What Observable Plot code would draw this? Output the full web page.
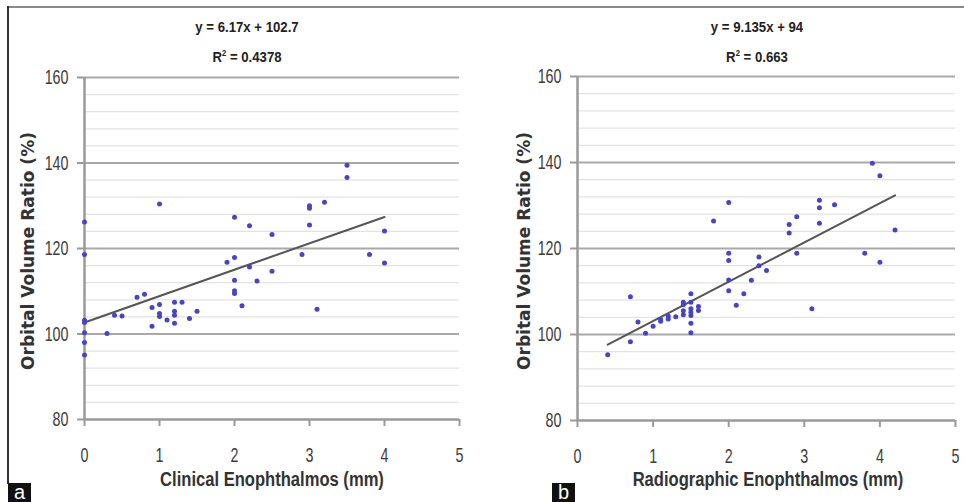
<!DOCTYPE html>
<html><head><meta charset="utf-8">
<script src="https://cdn.jsdelivr.net/npm/d3@7"></script>
<script src="https://cdn.jsdelivr.net/npm/@observablehq/plot@0.6"></script>
<style>
body{margin:0;background:#fff}
#root{position:relative;width:964px;height:502px;overflow:hidden;background:#fff}
.frameTop{position:absolute;left:8px;top:6px;width:956px;height:2px;background:#8a8a8a}
.frameLeft{position:absolute;left:7px;top:6px;width:2px;height:478px;background:#333}
.tag{position:absolute;top:483px;width:23px;height:19px;background:#111;color:#fff;font:20px "Liberation Sans",Arial,sans-serif;text-align:center;line-height:18px}
.eq{position:absolute;transform:translateX(-50%) scaleX(0.85);font:bold 15.5px "Liberation Sans",Arial,sans-serif;text-align:center;color:#222;white-space:nowrap;line-height:30px}
.eq sup{font-size:9px;vertical-align:6px;line-height:0}
.ytitle{position:absolute;transform:translate(-50%,-50%) rotate(-90deg);font:bold 17px "DejaVu Sans",Verdana,sans-serif;color:#333;white-space:nowrap}
.xtitle{position:absolute;transform:translate(-50%,-50%) scaleX(0.85);font:bold 19.5px "Liberation Sans",Arial,sans-serif;color:#333;white-space:nowrap}
.panel{position:absolute;top:0}
</style>
</head><body>
<div id="root">
  <div class="frameTop"></div>
  <div class="frameLeft"></div>
</div>
<script>
// ---- data ----
const clinicalX = [0,0,0,0,0,0,0, 0.3,0.4,0.5,0.7,0.8,0.9,0.9, 1.0,1.0,1.0,1.0, 1.1, 1.2,1.2,1.2,1.2, 1.3,1.4,1.5, 1.9, 2.0,2.0,2.0,2.0,2.0, 2.1, 2.2,2.2, 2.3, 2.5,2.5, 2.9, 3.0,3.0,3.0, 3.1, 3.2, 3.5,3.5, 3.8, 4.0,4.0];
const clinicalY = [126.2,118.6,103.2,102.7,100.3,98.0,95.1, 100.1,104.4,104.2,108.6,109.3,106.2,101.8, 130.4,106.9,104.8,104.1, 103.3, 107.4,105.3,104.4,102.5, 107.4,103.6,105.3, 116.8, 127.3,117.9,112.6,110.1,109.5, 106.6, 125.3,115.7, 112.4, 123.3,114.7, 118.6, 130.0,129.4,125.5, 105.8, 130.8, 139.5,136.6, 118.6, 124.1,116.6];

const radioX = [0.4, 0.7,0.7, 0.8, 0.9, 1.0, 1.1,1.1, 1.2,1.2, 1.3, 1.4,1.4,1.4,1.4, 1.5,1.5,1.5,1.5,1.5,1.5,1.5, 1.6,1.6, 1.8, 2.0,2.0,2.0,2.0,2.0, 2.1, 2.2, 2.3, 2.4,2.4, 2.5, 2.8,2.8, 2.9,2.9, 3.1, 3.2,3.2,3.2, 3.4, 3.8, 3.9, 4.0,4.0, 4.2];
const radioY = [95.3, 108.8,98.3, 102.9, 100.3, 101.9, 103.5,103.1, 104.3,103.6, 104.1, 107.5,106.9,105.5,104.6, 109.5,107.5,106.0,105.2,104.4,102.6,100.4, 106.5,105.6, 126.4, 130.7,118.9,117.2,112.7,110.2, 106.8, 109.5, 112.6, 118.0,116.0, 114.9, 125.6,123.6, 127.4,118.9, 106.0, 131.2,129.5,125.9, 130.2, 118.9, 139.8, 136.9,116.8, 124.3];

const fitSlope = [6.17, 9.135];
const fitIntercept = [102.7, 94];
const equationText = ["y = 6.17x + 102.7", "y = 9.135x + 94"];
const r2Text = ["0.4378", "0.663"];
const xTitles = ["Clinical Enophthalmos (mm)", "Radiographic Enophthalmos (mm)"];
const yTitle = "Orbital Volume Ratio (%)";
const tagLabels = ["a", "b"];
const xTickValues = [0, 1, 2, 3, 4, 5];
const yMajorTicks = [80, 100, 120, 140, 160];
const yMinorGrid = [84, 88, 92, 96, 104, 108, 112, 116, 124, 128, 132, 136, 144, 148, 152, 156];

// ---- layout ----
const panels = [
  {xs: clinicalX, ys: clinicalY, left: 0, width: 480, ml: 84, mr: 21, mt: 77, mb: 83, eqX: 247, ytX: 28, xtX: 272},
  {xs: radioX, ys: radioY, left: 480, width: 484, ml: 97, mr: 9, mt: 76, mb: 82, eqX: 757, ytX: 524, xtX: 768}
];

const root = document.getElementById("root");

panels.forEach((p, i) => {
  const data = p.xs.map((x, j) => ({x, y: p.ys[j]}));
  const xmin = d3.min(p.xs), xmax = d3.max(p.xs);
  const fit = [xmin, xmax].map(x => ({x, y: fitSlope[i] * x + fitIntercept[i]}));
  const chart = Plot.plot({
    width: p.width, height: 502,
    marginLeft: p.ml, marginRight: p.mr, marginTop: p.mt, marginBottom: p.mb,
    style: {fontFamily: "'Liberation Sans',Arial,sans-serif", fontSize: "21px", color: "#3c3c3c", background: "transparent", overflow: "visible"},
    x: {domain: [0, 5]},
    y: {domain: [80, 160]},
    marks: [
      Plot.ruleY(yMinorGrid, {stroke: "#e3e3e3", strokeWidth: 1.2}),
      Plot.ruleY(yMajorTicks.filter(v => v > 80), {stroke: "#a9a9a9", strokeWidth: 2}),
      Plot.axisY({ticks: yMajorTicks, tickFormat: d => String(d), tickSize: 7, tickPadding: 9, stroke: "#9a9a9a", strokeWidth: 2, label: null}),
      Plot.axisX({ticks: xTickValues, tickFormat: d => String(d), tickSize: 7, tickPadding: 21, stroke: "#9a9a9a", strokeWidth: 2, label: null}),
      Plot.ruleX([0], {stroke: "#9a9a9a", strokeWidth: 2.5}),
      Plot.ruleY([80], {stroke: "#9a9a9a", strokeWidth: 2.5}),
      Plot.line(fit, {x: "x", y: "y", stroke: "#555", strokeWidth: 2}),
      Plot.dot(data, {x: "x", y: "y", r: 2.5, fill: "#4646c4", stroke: "none"})
    ]
  });
  const wrap = document.createElement("div");
  wrap.className = "panel";
  wrap.style.left = p.left + "px";
  wrap.appendChild(chart);
  root.appendChild(wrap);
  // condense tick label glyphs (narrow face look)
  chart.querySelectorAll("text").forEach(t => {
    const L = t.getComputedTextLength();
    if (L > 0) {
      t.setAttribute("textLength", (L * 0.68).toFixed(2));
      t.setAttribute("lengthAdjust", "spacingAndGlyphs");
    }
  });

  const eq = document.createElement("div");
  eq.className = "eq";
  eq.style.left = p.eqX + "px";
  eq.style.top = "12px";
  eq.innerHTML = equationText[i] + "<br>R<sup>2</sup> = " + r2Text[i];
  root.appendChild(eq);

  const yt = document.createElement("div");
  yt.className = "ytitle";
  yt.style.left = p.ytX + "px";
  yt.style.top = "251px";
  yt.textContent = yTitle;
  root.appendChild(yt);

  const xt = document.createElement("div");
  xt.className = "xtitle";
  xt.style.left = p.xtX + "px";
  xt.style.top = "479px";
  xt.textContent = xTitles[i];
  root.appendChild(xt);
});

tagLabels.forEach((t, i) => {
  const tag = document.createElement("div");
  tag.className = "tag";
  tag.style.left = (i === 0 ? 8 : 552) + "px";
  tag.textContent = t;
  root.appendChild(tag);
});
</script>
</body></html>
